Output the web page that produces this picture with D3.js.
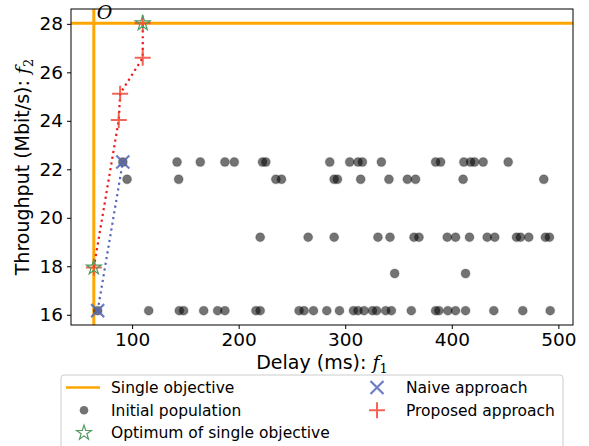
<!DOCTYPE html>
<html>
<head>
<meta charset="utf-8">
<script src="https://cdn.jsdelivr.net/npm/d3@7"></script>
<style>
  body { margin: 0; background: #fff; }
  svg { display: block; font-family: "DejaVu Sans", sans-serif; }
</style>
</head>
<body>
<div id="chart"></div>
<script>
// initial population, one array of delays (ms) per throughput level (Mbit/s)
var rowThroughput = [22.3, 21.59, 19.2, 17.7, 16.17];
var rowDelays = [
    [91.3, 142.2, 164.0, 187.1, 195.9, 222.4, 225.5, 285.5, 304.2, 312.0, 316.1, 333.9, 384.8, 389.5, 411.3, 417.6, 421.3, 429.4, 452.9],
    [95.3, 143.7, 234.9, 240.2, 289.6, 292.7, 314.5, 341.0, 358.3, 366.0, 410.6, 486.3],
    [220.2, 265.2, 289.6, 330.7, 342.0, 364.5, 369.2, 395.7, 403.5, 416.6, 433.2, 440.3, 460.7, 464.4, 472.2, 487.8, 491.6],
    [346.4, 412.9],
    [67.7, 115.6, 144.3, 148.4, 167.2, 180.3, 187.1, 216.2, 220.2, 256.7, 261.4, 270.2, 282.7, 294.6, 307.7, 312.0, 317.7, 325.5, 329.5, 338.0, 343.3, 362.0, 384.8, 387.9, 396.3, 403.5, 412.9, 439.4, 466.6, 492.3]
];

// single objective optima
var singleDelay = 64.1;
var singleThroughput = 28.02;
var optimumDelay = [64.1, 110.0];
var optimumThroughput = [17.95, 28.02];

// naive approach
var naiveDelay = [67.7, 91.3];
var naiveThroughput = [16.17, 22.3];

// proposed approach
var proposedDelay = [64.1, 87.5, 88.8, 110.0, 110.0];
var proposedThroughput = [17.95, 24.03, 25.12, 26.6, 28.02];

var xTicks = [100, 200, 300, 400, 500];
var yTicks = [16, 18, 20, 22, 24, 26, 28];

var attrs = {
    svgWidth: 589,
    svgHeight: 446,
    marginTop: 9,
    marginLeft: 71,
    marginRight: 16,
    marginBottom: 121,
    orange: '#ffa500',
    blue: '#5566bb',
    red: '#f04a3a',
    green: '#4f9a5f'
};

var calc = {};
calc.chartWidth = attrs.svgWidth - attrs.marginLeft - attrs.marginRight;
calc.chartHeight = attrs.svgHeight - attrs.marginTop - attrs.marginBottom;

// flatten population
var population = [];
rowDelays.forEach(function (row, i) {
    row.forEach(function (d) { population.push({ x: d, y: rowThroughput[i] }); });
});

function zip(xs, ys) { return xs.map(function (d, i) { return { x: d, y: ys[i] }; }); }
var optimum = zip(optimumDelay, optimumThroughput);
var naive = zip(naiveDelay, naiveThroughput);
var proposed = zip(proposedDelay, proposedThroughput);

// matplotlib style 5% padding
var allPts = population.concat(optimum, naive, proposed);
var xExt = d3.extent(allPts, d => d.x), yExt = d3.extent(allPts, d => d.y);
var xPad = (xExt[1] - xExt[0]) * 0.05, yPad = (yExt[1] - yExt[0]) * 0.05;

var x = d3.scaleLinear().domain([xExt[0] - xPad, xExt[1] + xPad]).range([0, calc.chartWidth]);
var y = d3.scaleLinear().domain([yExt[0] - yPad, yExt[1] + yPad]).range([calc.chartHeight, 0]);

var svg = d3.select('#chart').append('svg')
    .attr('width', attrs.svgWidth)
    .attr('height', attrs.svgHeight);

var chart = svg.append('g')
    .attr('transform', 'translate(' + attrs.marginLeft + ',' + attrs.marginTop + ')');

// clip to axes
svg.append('clipPath').attr('id', 'clip')
    .append('rect').attr('width', calc.chartWidth).attr('height', calc.chartHeight);
var plot = chart.append('g').attr('clip-path', 'url(#clip)');

// single objective lines
plot.append('line')
    .attr('x1', x(singleDelay)).attr('x2', x(singleDelay))
    .attr('y1', 0).attr('y2', calc.chartHeight)
    .attr('stroke', attrs.orange).attr('stroke-width', 3);
plot.append('line')
    .attr('x1', 0).attr('x2', calc.chartWidth)
    .attr('y1', y(singleThroughput)).attr('y2', y(singleThroughput))
    .attr('stroke', attrs.orange).attr('stroke-width', 3);

// initial population
plot.selectAll('circle.pop')
    .data(population)
    .enter()
    .append('circle')
    .attr('class', 'pop')
    .attr('cx', d => x(d.x))
    .attr('cy', d => y(d.y))
    .attr('r', 4.5)
    .attr('fill', '#000')
    .attr('fill-opacity', 0.55)
    .attr('stroke', '#000')
    .attr('stroke-opacity', 0.14)
    .attr('stroke-width', 1.4);

var line = d3.line().x(d => x(d.x)).y(d => y(d.y));

// dotted paths
plot.append('path').datum(naive)
    .attr('d', line).attr('fill', 'none')
    .attr('stroke', attrs.blue).attr('stroke-width', 2.2)
    .attr('stroke-dasharray', '2.2,3.6');
plot.append('path').datum(proposed)
    .attr('d', line).attr('fill', 'none')
    .attr('stroke', '#f01818').attr('stroke-width', 2.2)
    .attr('stroke-dasharray', '2.2,3.6');

// markers
var starPath = d3.symbol().type(d3.symbolStar).size(68);
function drawX(s) {
    return 'M' + (-s) + ',' + (-s) + 'L' + s + ',' + s + 'M' + (-s) + ',' + s + 'L' + s + ',' + (-s);
}
function drawPlus(s) {
    return 'M' + (-s) + ',0L' + s + ',0M0,' + (-s) + 'L0,' + s;
}

plot.selectAll('path.naive')
    .data(naive)
    .enter()
    .append('path')
    .attr('class', 'naive')
    .attr('transform', d => 'translate(' + x(d.x) + ',' + y(d.y) + ')')
    .attr('d', drawX(6.5))
    .attr('stroke', attrs.blue).attr('stroke-width', 2.2).attr('stroke-opacity', 0.85);

plot.selectAll('path.proposed')
    .data(proposed)
    .enter()
    .append('path')
    .attr('class', 'proposed')
    .attr('transform', d => 'translate(' + x(d.x) + ',' + y(d.y) + ')')
    .attr('d', drawPlus(8))
    .attr('stroke', attrs.red).attr('stroke-width', 2).attr('stroke-opacity', 0.85);

plot.selectAll('path.star')
    .data(optimum)
    .enter()
    .append('path')
    .attr('class', 'star')
    .attr('transform', d => 'translate(' + x(d.x) + ',' + y(d.y) + ')')
    .attr('d', starPath)
    .attr('fill', 'none')
    .attr('stroke', attrs.green).attr('stroke-width', 1.2);

// O label
chart.append('text')
    .attr('x', x(singleDelay) + 3)
    .attr('y', y(singleThroughput) - 4)
    .attr('font-family', 'DejaVu Serif, serif')
    .attr('font-style', 'italic')
    .attr('font-size', 19)
    .text('O');

// axes
var xAxis = chart.append('g')
    .attr('transform', 'translate(0,' + calc.chartHeight + ')')
    .call(d3.axisBottom(x).tickValues(xTicks).tickSize(4).tickPadding(4));
var yAxis = chart.append('g')
    .call(d3.axisLeft(y).tickValues(yTicks).tickSize(4).tickPadding(4));
[xAxis, yAxis].forEach(function (a) {
    a.select('.domain').remove();
    a.selectAll('text').attr('font-size', 18.5).attr('font-family', 'DejaVu Sans').attr('fill', '#000');
    a.selectAll('line').attr('stroke', '#000');
});

// frame
chart.append('rect')
    .attr('width', calc.chartWidth).attr('height', calc.chartHeight)
    .attr('fill', 'none').attr('stroke', '#000').attr('stroke-width', 1);

// axis titles
var xLabel = svg.append('text')
    .attr('x', attrs.marginLeft + calc.chartWidth / 2)
    .attr('y', 369)
    .attr('text-anchor', 'middle')
    .attr('font-size', 19);
xLabel.append('tspan').text('Delay (ms): ');
xLabel.append('tspan').attr('font-family', 'DejaVu Serif').attr('font-style', 'italic').text('f');
xLabel.append('tspan').attr('font-family', 'DejaVu Serif').attr('font-size', 13).attr('dy', 4).text('1');

var yLabel = svg.append('text')
    .attr('transform', 'translate(29,' + (attrs.marginTop + calc.chartHeight / 2) + ') rotate(-90)')
    .attr('text-anchor', 'middle')
    .attr('font-size', 19);
yLabel.append('tspan').text('Throughput (Mbit/s): ');
yLabel.append('tspan').attr('font-family', 'DejaVu Serif').attr('font-style', 'italic').text('f');
yLabel.append('tspan').attr('font-family', 'DejaVu Serif').attr('font-size', 13).attr('dy', 4).text('2');

// legend
var legend = svg.append('g').attr('transform', 'translate(61,375)');
legend.append('rect')
    .attr('width', 502).attr('height', 76).attr('rx', 3)
    .attr('fill', '#fff').attr('fill-opacity', 0.8)
    .attr('stroke', '#ccc').attr('stroke-width', 1);

var legendItems = [
    { label: 'Single objective', col: 0, row: 0, kind: 'line' },
    { label: 'Initial population', col: 0, row: 1, kind: 'dot' },
    { label: 'Optimum of single objective', col: 0, row: 2, kind: 'star' },
    { label: 'Naive approach', col: 1, row: 0, kind: 'x' },
    { label: 'Proposed approach', col: 1, row: 1, kind: 'plus' }
];

var li = legend.selectAll('g.item')
    .data(legendItems)
    .enter()
    .append('g')
    .attr('class', 'item')
    .attr('transform', d => 'translate(' + (d.col ? 316 : 23) + ',' + (12.5 + d.row * 22.7) + ')');

li.each(function (d) {
    var g = d3.select(this);
    if (d.kind === 'line') {
        g.append('line').attr('x1', -18).attr('x2', 16).attr('stroke', attrs.orange).attr('stroke-width', 2.5);
    } else if (d.kind === 'dot') {
        g.append('circle').attr('r', 4.3).attr('fill', '#000').attr('fill-opacity', 0.55);
    } else if (d.kind === 'star') {
        g.append('path').attr('d', starPath).attr('fill', 'none').attr('stroke', attrs.green).attr('stroke-width', 1.2);
    } else if (d.kind === 'x') {
        g.append('path').attr('d', drawX(6.5)).attr('stroke', attrs.blue).attr('stroke-width', 2.2).attr('stroke-opacity', 0.85);
    } else {
        g.append('path').attr('d', drawPlus(8)).attr('stroke', attrs.red).attr('stroke-width', 2).attr('stroke-opacity', 0.85);
    }
    g.append('text')
        .attr('x', d.col ? 29 : 27)
        .attr('dy', '0.35em')
        .attr('font-size', 15.5)
        .text(d.label);
});
</script>
</body>
</html>
